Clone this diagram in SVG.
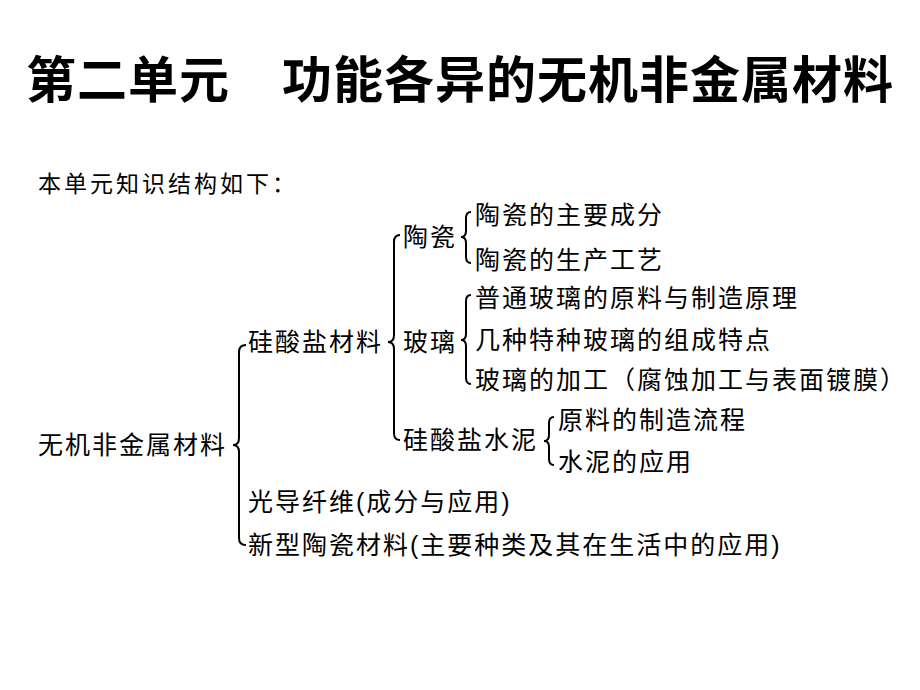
<svg xmlns="http://www.w3.org/2000/svg" width="920" height="690" viewBox="0 0 920 690">
<style>
text{font-family:"Liberation Sans","Noto Sans CJK SC",sans-serif;fill:#000}
.t{font-size:50px;font-weight:bold;letter-spacing:1px}
.n{font-size:25px;letter-spacing:2px}
.b{fill:none;stroke:#000;stroke-width:2}
</style>
<rect width="920" height="690" fill="#fff"/>
<g id="title"><text class="t" x="26" y="98">第二单元</text><text class="t" x="282" y="98">功能各异的无机非金属材料</text></g>
<text id="intro" x="38" y="192" style="font-size:23px;letter-spacing:3px">本单元知识结构如下：</text>
<g id="connectors">
<path class="b" d="M246,345 Q239,345 239,352 L239,438 Q239,445 233,445 Q239,445 239,452 L239,538 Q239,545 246,545"/>
<path class="b" d="M400,235 Q394,235 394,242 L394,335 Q394,342 388,342 Q394,342 394,349 L394,433 Q394,440 400,440"/>
<path class="b" d="M471,212 Q466,212 466,218 L466,231 Q466,237 461,237 Q466,237 466,243 L466,257 Q466,263 471,263"/>
<path class="b" d="M471,295 Q466,295 466,301 L466,334 Q466,340 461,340 Q466,340 466,346 L466,378 Q466,384 471,384"/>
<path class="b" d="M554,417 Q549,417 549,423 L549,435 Q549,441 544,441 Q549,441 549,447 L549,459 Q549,465 554,465"/>
</g>
<g id="root"><text class="n" x="38" y="454">无机非金属材料</text></g>
<g id="silicate"><text class="n" x="248" y="351">硅酸盐材料</text></g>
<g id="ceramic"><text class="n" x="403" y="246">陶瓷</text></g>
<g id="c1"><text class="n" x="475" y="224">陶瓷的主要成分</text></g>
<g id="c2"><text class="n" x="475" y="269">陶瓷的生产工艺</text></g>
<g id="glass"><text class="n" x="403" y="351">玻璃</text></g>
<g id="g1"><text class="n" x="475" y="307">普通玻璃的原料与制造原理</text></g>
<g id="g2"><text class="n" x="475" y="349">几种特种玻璃的组成特点</text></g>
<g id="g3"><text class="n" x="475" y="389">玻璃的加工（腐蚀加工与表面镀膜）</text></g>
<g id="cement"><text class="n" x="403" y="449">硅酸盐水泥</text></g>
<g id="m1"><text class="n" x="558" y="429">原料的制造流程</text></g>
<g id="m2"><text class="n" x="558" y="471">水泥的应用</text></g>
<g id="fiber"><text class="n" x="248" y="511">光导纤维(成分与应用)</text></g>
<g id="newc"><text class="n" x="248" y="554">新型陶瓷材料(主要种类及其在生活中的应用)</text></g>
</svg>
